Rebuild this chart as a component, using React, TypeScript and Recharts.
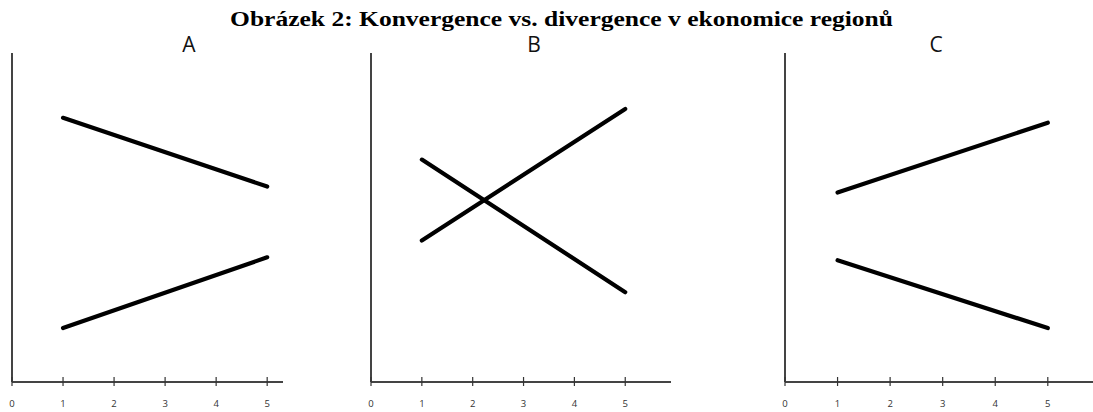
import React from "react";
import { Line, LineChart, XAxis, YAxis } from "recharts";

// Shared time axis: only the two endpoints of each path are plotted
const periods = [1, 5];
const xTicks = [0, 1, 2, 3, 4, 5];

// Panel A – convergence
const aRich = [8.03, 5.94];
const aPoor = [1.64, 3.79];

// Panel B – regions swap positions
const bFalling = [6.76, 2.73];
const bRising = [4.3, 8.3];

// Panel C – divergence
const cRich = [5.76, 7.88];
const cPoor = [3.7, 1.64];

const panels = [
  { key: "A", plotLeft: 12, unit: 51, xMax: 5.31, series: [aRich, aPoor], titleX: 189 },
  { key: "B", plotLeft: 371, unit: 50.8, xMax: 5.9, series: [bFalling, bRising], titleX: 534 },
  { key: "C", plotLeft: 785, unit: 52.6, xMax: 5.86, series: [cRich, cPoor], titleX: 936 },
];

const TOP = 53;
const AXIS_Y = 382;
const HEIGHT = 412;

const AxisTick = (props: any) => {
  const { x, y, payload } = props;
  return (
    <g>
      <line x1={x} x2={x} y1={y - 5} y2={y + 4} stroke="#333" strokeWidth={1.2} />
      <text
        x={x}
        y={y + 25}
        textAnchor="middle"
        fontSize={9.5}
        fontFamily="'Open Sans', sans-serif"
        fill="#333"
      >
        {payload.value}
      </text>
    </g>
  );
};

function Panel({ p }: { p: (typeof panels)[number] }) {
  const data = periods.map((x, i) => ({ x, s0: p.series[0][i], s1: p.series[1][i] }));
  const width = Math.round(p.plotLeft + p.xMax * p.unit);
  return (
    <div style={{ position: "absolute", left: 0, top: 0 }}>
      <LineChart
        width={width}
        height={HEIGHT}
        data={data}
        margin={{ top: TOP, left: p.plotLeft - 1, right: 0, bottom: 0 }}
      >
        <XAxis
          type="number"
          dataKey="x"
          domain={[0, p.xMax]}
          ticks={xTicks}
          tickLine={false}
          tickSize={0}
          tickMargin={0}
          tick={<AxisTick />}
          axisLine={{ stroke: "#444", strokeWidth: 2 }}
          height={HEIGHT - AXIS_Y}
          allowDataOverflow
        />
        <YAxis
          type="number"
          domain={[0, 10]}
          width={1}
          tick={false}
          tickLine={false}
          axisLine={{ stroke: "#444", strokeWidth: 2 }}
        />
        <Line
          dataKey="s0"
          stroke="#000"
          strokeWidth={4.2}
          strokeLinecap="round"
          dot={false}
          isAnimationActive={false}
        />
        <Line
          dataKey="s1"
          stroke="#000"
          strokeWidth={4.2}
          strokeLinecap="round"
          dot={false}
          isAnimationActive={false}
        />
      </LineChart>
      <div
        style={{
          position: "absolute",
          left: p.titleX - 20,
          width: 40,
          top: 30,
          textAlign: "center",
          fontFamily: "'Open Sans', sans-serif",
          fontSize: 21,
          color: "#111",
        }}
      >
        {p.key}
      </div>
    </div>
  );
}

export default function App() {
  return (
    <div
      style={{
        position: "absolute",
        left: 0,
        top: 0,
        width: 1093,
        height: HEIGHT,
        background: "#fff",
      }}
    >
      {/* each chart starts at x=0; the wider ones go underneath */}
      {[...panels].reverse().map((p) => (
        <div key={p.key} style={{ position: "absolute", left: 0, top: 0 }}>
          <Panel p={p} />
        </div>
      ))}
      <div
        style={{
          position: "absolute",
          left: 0,
          width: 1093,
          top: 6,
          textAlign: "center",
          fontFamily: "'Liberation Serif', 'Times New Roman', serif",
          fontWeight: "bold",
          fontSize: 22,
          color: "#000",
          transform: "translateX(15px) scaleX(1.16)",
          transformOrigin: "center",
        }}
      >
        Obrázek 2: Konvergence vs. divergence v ekonomice regionů
      </div>
    </div>
  );
}
